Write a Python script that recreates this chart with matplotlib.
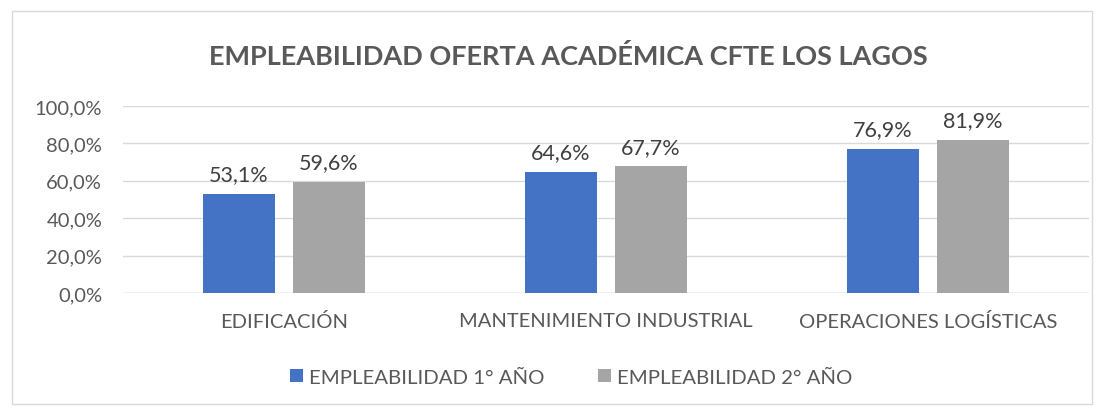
import matplotlib
matplotlib.use("Agg")
import matplotlib.pyplot as plt
from matplotlib.patches import Rectangle
import numpy as np

categories = ["EDIFICACIÓN", "MANTENIMIENTO INDUSTRIAL", "OPERACIONES LOGÍSTICAS"]
anio1 = [53.1, 64.6, 76.9]
anio2 = [59.6, 67.7, 81.9]
series_names = ["EMPLEABILIDAD 1° AÑO", "EMPLEABILIDAD 2° AÑO"]
title = "EMPLEABILIDAD OFERTA ACADÉMICA CFTE LOS LAGOS"

plt.rcParams['font.family'] = ['Lato', 'DejaVu Sans']

blue = '#4472c4'
gray = '#a5a5a5'
txt = '#595959'

fig = plt.figure(figsize=(11.03, 4.10), dpi=100)
ax = fig.add_axes([0.1115, 0.283, 0.8755, 0.456])

x = np.arange(len(categories))
w = 0.224
off = 0.14
b1 = ax.bar(x - off, anio1, w, color=blue, label=series_names[0], zorder=3)
b2 = ax.bar(x + off, anio2, w, color=gray, label=series_names[1], zorder=3)

def fmt(v):
    return f"{v:.1f}%".replace('.', ',')

for bars, vals in ((b1, anio1), (b2, anio2)):
    for r, v in zip(bars, vals):
        ax.annotate(fmt(v), (r.get_x() + r.get_width() / 2, v),
                    xytext=(0, 7), textcoords='offset points',
                    ha='center', va='bottom', fontsize=15.5, color='#404040')

ax.set_xlim(-0.5, 2.5)
ax.set_ylim(0, 100)
ax.set_yticks(np.arange(0, 101, 20))
ax.set_yticklabels([fmt(v) for v in np.arange(0, 101, 20)])
ax.set_xticks(x)
ax.set_xticklabels(categories)
ax.tick_params(axis='both', length=0, labelsize=14.5, labelcolor=txt)
ax.tick_params(axis='x', pad=14)
ax.tick_params(axis='y', pad=15)
ax.yaxis.grid(True, color='#d9d9d9', linewidth=1, zorder=0)
for s in ax.spines.values():
    s.set_visible(False)
ax.axhline(0, color='#d9d9d9', linewidth=1, zorder=2)

fig.text(0.515, 0.862, title, ha='center', va='center', fontsize=19.5,
         fontweight='bold', color=txt)

leg = fig.legend(handles=[b1, b2], loc='center', bbox_to_anchor=(0.518, 0.078),
                 ncol=2, frameon=False, fontsize=14.7, handlelength=0.65,
                 handleheight=0.65, handletextpad=0.3, columnspacing=2.6)
for t in leg.get_texts():
    t.set_color(txt)

fig.patches.append(Rectangle((12 / 1103, 5 / 410), 1080 / 1103, 393 / 410,
                             transform=fig.transFigure, fill=False,
                             edgecolor='#d9d9d9', linewidth=1))

fig.savefig("out.png", dpi=100)
